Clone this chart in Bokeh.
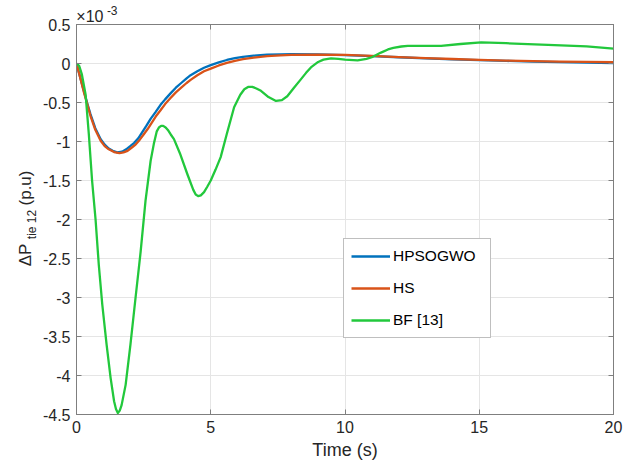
from bokeh.plotting import figure
from bokeh.models import Range1d, FixedTicker, LinearAxis
from bokeh.embed import file_html
from bokeh.resources import INLINE

# ---- data (y values in units of 1e-3 p.u.) ----
t_hpsogwo = [0, 0.1, 0.27, 0.4, 0.52, 0.7, 0.9, 1.05, 1.2, 1.35, 1.52, 1.7, 1.85, 2.0, 2.14, 2.3,
             2.45, 2.6, 2.76, 2.95, 3.13, 3.3, 3.51, 3.7, 3.9, 4.1, 4.25, 4.5, 4.75, 5.0, 5.3, 5.6,
             5.9, 6.2, 6.6, 7.1, 7.6, 8.0, 9.0, 10.0, 11, 12, 13, 14, 15, 16, 17, 18, 19, 20]
y_hpsogwo = [0, -0.13, -0.35, -0.51, -0.65, -0.83, -0.97, -1.04, -1.09, -1.12, -1.14, -1.13, -1.10,
             -1.06, -1.02, -0.96, -0.88, -0.80, -0.71, -0.62, -0.53, -0.46, -0.38, -0.31, -0.25, -0.19,
             -0.15, -0.10, -0.055, -0.02, 0.015, 0.045, 0.068, 0.085, 0.1, 0.112, 0.118, 0.12, 0.118,
             0.108, 0.095, 0.08, 0.066, 0.053, 0.042, 0.033, 0.025, 0.017, 0.011, 0.006]

t_hs = [0, 0.1, 0.27, 0.4, 0.52, 0.7, 0.9, 1.05, 1.2, 1.4, 1.6, 1.75, 1.9, 2.05, 2.2, 2.35, 2.5,
        2.65, 2.8, 2.95, 3.13, 3.3, 3.51, 3.7, 3.9, 4.1, 4.25, 4.5, 4.75, 5.0, 5.3, 5.6, 5.9, 6.2,
        6.6, 7.1, 7.6, 8.0, 9.0, 10, 11, 12, 13, 14, 15, 16, 17, 18, 19, 20]
y_hs = [0, -0.13, -0.36, -0.52, -0.67, -0.85, -0.99, -1.06, -1.10, -1.135, -1.15, -1.14, -1.12,
        -1.08, -1.04, -0.98, -0.91, -0.84, -0.76, -0.68, -0.60, -0.52, -0.44, -0.37, -0.31, -0.25,
        -0.21, -0.15, -0.10, -0.065, -0.025, 0.008, 0.035, 0.055, 0.075, 0.095, 0.105, 0.11, 0.115,
        0.11, 0.097, 0.083, 0.07, 0.058, 0.047, 0.038, 0.031, 0.025, 0.02, 0.016]

t_bf = [0, 0.1, 0.2, 0.34, 0.46, 0.58, 0.71, 0.83, 0.96, 1.12, 1.27, 1.4, 1.47, 1.54, 1.61, 1.68,
        1.83, 2.01, 2.2, 2.39, 2.57, 2.76, 2.88, 2.99, 3.07, 3.15, 3.23, 3.32, 3.42, 3.51, 3.63, 3.85,
        4.13, 4.35, 4.44, 4.53, 4.63, 4.75, 4.87, 5.0, 5.18, 5.37, 5.6, 5.87, 6.1, 6.25, 6.39, 6.55,
        6.7, 6.87, 7.15, 7.43, 7.65, 7.85, 8.1, 8.34, 8.55, 8.73, 9.0, 9.2, 9.48, 9.75, 10.0, 10.47,
        10.8, 11.0, 11.34, 11.6, 11.8, 12.1, 12.34, 13.0, 13.58, 14.3, 15.07, 16, 17.56, 19, 20]
y_bf = [0, -0.03, -0.14, -0.40, -0.91, -1.5, -2.0, -2.58, -3.09, -3.6, -4.03, -4.33, -4.43, -4.48,
        -4.45, -4.38, -4.12, -3.6, -3.0, -2.41, -1.76, -1.25, -1.03, -0.87, -0.82, -0.80, -0.80,
        -0.82, -0.86, -0.91, -0.97, -1.15, -1.42, -1.62, -1.68, -1.70, -1.69, -1.65, -1.58, -1.5,
        -1.36, -1.2, -0.90, -0.56, -0.40, -0.33, -0.30, -0.30, -0.32, -0.35, -0.43, -0.48, -0.47,
        -0.42, -0.31, -0.21, -0.12, -0.05, 0.02, 0.05, 0.065, 0.06, 0.05, 0.04, 0.06, 0.08, 0.14,
        0.18, 0.2, 0.218, 0.227, 0.225, 0.227, 0.25, 0.27, 0.26, 0.24, 0.22, 0.19]

x_ticks = [0, 5, 10, 15, 20]
y_ticks = [0.5, 0, -0.5, -1, -1.5, -2, -2.5, -3, -3.5, -4, -4.5]
y_tick_labels = ["0.5", "0", "-0.5", "-1", "-1.5", "-2", "-2.5", "-3", "-3.5", "-4", "-4.5"]

series_names = ["HPSOGWO", "HS", "BF [13]"]
series_colors = ["#0072BD", "#D95319", "#22C83C"]

FONT = "Liberation Sans"
TXT = "#262626"
BOX = "#7f7f7f"

p = figure(width=640, height=466, output_backend="svg", toolbar_location=None,
           x_range=Range1d(0, 20), y_range=Range1d(-4.5, 0.5),
           min_border_left=76, min_border_right=27, min_border_top=24, min_border_bottom=52)
p.background_fill_color = "white"
p.border_fill_color = "white"
p.outline_line_color = BOX
p.outline_line_width = 1

for tt, yy, name, col in zip([t_hpsogwo, t_hs, t_bf], [y_hpsogwo, y_hs, y_bf], series_names, series_colors):
    p.line(tt, yy, line_color=col, line_width=2.3, legend_label=name, line_join="round")

# axes styling
for ax in [p.xaxis[0], p.yaxis[0]]:
    ax.major_tick_in = 5
    ax.major_tick_out = 0
    ax.minor_tick_line_color = None
    ax.axis_line_color = BOX
    ax.major_tick_line_color = BOX
    ax.major_label_text_font = FONT
    ax.major_label_text_font_size = "16px"
    ax.major_label_text_color = TXT
    ax.major_label_text_font_style = "normal"

p.xaxis.ticker = FixedTicker(ticks=x_ticks)
p.yaxis.ticker = FixedTicker(ticks=y_ticks)
p.yaxis.major_label_overrides = {v: s for v, s in zip(y_ticks, y_tick_labels)}
p.xaxis.major_label_standoff = 6
p.yaxis.major_label_standoff = 6

p.xaxis.axis_label = "Time (s)"
p.xaxis.axis_label_text_font = FONT
p.xaxis.axis_label_text_font_size = "18px"
p.xaxis.axis_label_text_font_style = "normal"
p.xaxis.axis_label_text_color = TXT
p.xaxis.axis_label_standoff = 4

# box axes on top and right with inward ticks
top = LinearAxis(ticker=FixedTicker(ticks=x_ticks))
right = LinearAxis(ticker=FixedTicker(ticks=y_ticks))
for ax in [top, right]:
    ax.major_tick_in = 5
    ax.major_tick_out = 0
    ax.minor_tick_line_color = None
    ax.axis_line_color = BOX
    ax.major_tick_line_color = BOX
    ax.major_label_text_font_size = "0px"
    ax.major_label_text_alpha = 0
    ax.major_label_standoff = 0
p.add_layout(top, "above")
p.add_layout(right, "right")


def text_axis(side, ticks, texts, size, standoff, vertical=False):
    ax = LinearAxis(ticker=FixedTicker(ticks=ticks),
                    major_label_overrides={v: s for v, s in zip(ticks, texts)})
    ax.axis_line_color = None
    ax.major_tick_line_color = None
    ax.minor_tick_line_color = None
    ax.major_tick_in = 0
    ax.major_tick_out = 0
    ax.major_label_standoff = standoff
    ax.major_label_text_font = FONT
    ax.major_label_text_font_size = size
    ax.major_label_text_color = TXT
    if vertical:
        ax.major_label_orientation = "vertical"
    p.add_layout(ax, side)
    return ax


# exponent "×10^-3" above the frame
text_axis("above", [0.5], ["×10"], "16px", 0)
text_axis("above", [1.33], ["-3"], "12px", -10)

# y axis label  ΔP_{tie 12} (p.u)
text_axis("left", [-2.064], ["tie 12"], "12px", 0, vertical=True)
text_axis("left", [-2.455, -1.596], ["ΔP", "(p.u)"], "17px", -13, vertical=True)

# legend
lg = p.legend[0]
lg.location = (267, 76)
lg.margin = 0
lg.padding = 7
lg.spacing = 12
lg.glyph_width = 39
lg.glyph_height = 20
lg.label_height = 20
lg.label_width = 90
lg.label_standoff = 3
lg.label_text_font = FONT
lg.label_text_font_size = "15.5px"
lg.label_text_color = "#000000"
lg.border_line_color = BOX
lg.border_line_width = 1.2
lg.background_fill_color = "white"
lg.background_fill_alpha = 1

open("out.html", "w").write(file_html(p, INLINE))
